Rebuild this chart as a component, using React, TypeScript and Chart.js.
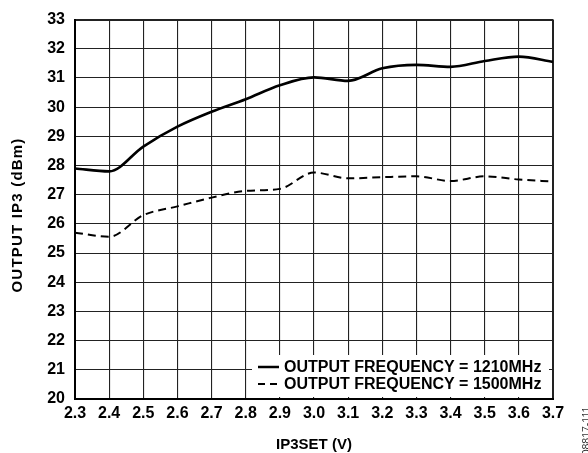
import React, { useEffect, useRef } from "react";
import { Chart, registerables } from "chart.js";

Chart.register(...registerables);

const ip3setVolts = [2.3, 2.4, 2.5, 2.6, 2.7, 2.8, 2.9, 3.0, 3.1, 3.2, 3.3, 3.4, 3.5, 3.6, 3.7];
const ip3At1210MHz = [27.9, 27.8, 28.65, 29.33, 29.84, 30.27, 30.75, 31.02, 30.9, 31.33, 31.45, 31.38, 31.58, 31.73, 31.55];
const ip3At1500MHz = [25.7, 25.56, 26.3, 26.6, 26.9, 27.13, 27.2, 27.76, 27.56, 27.6, 27.63, 27.47, 27.63, 27.52, 27.45];
const seriesLabels = ["OUTPUT FREQUENCY = 1210MHz", "OUTPUT FREQUENCY = 1500MHz"];
const xTitle = "IP3SET (V)";
const yTitle = "OUTPUT IP3 (dBm)";
const figureId = "08817-111";

const FONT = "'Liberation Sans', Arial, Helvetica, sans-serif";

const decorPlugin = {
  id: "decor",
  afterDatasetsDraw(chart: any) {
    const { ctx } = chart;
    ctx.save();
    // legend box
    const bx = 252, by = 355, bw = 297, bh = 42;
    ctx.fillStyle = "#fff";
    ctx.fillRect(bx, by, bw, bh);
    ctx.strokeStyle = "#000";
    ctx.lineWidth = 2.5;
    ctx.setLineDash([]);
    ctx.beginPath();
    ctx.moveTo(258, 367);
    ctx.lineTo(279, 367);
    ctx.stroke();
    ctx.lineWidth = 2;
    ctx.setLineDash([7, 5]);
    ctx.beginPath();
    ctx.moveTo(258, 384);
    ctx.lineTo(279, 384);
    ctx.stroke();
    ctx.setLineDash([]);
    ctx.fillStyle = "#000";
    ctx.font = `bold 16px ${FONT}`;
    ctx.textAlign = "left";
    ctx.textBaseline = "middle";
    ctx.fillText(seriesLabels[0], 284, 368);
    ctx.fillText(seriesLabels[1], 284, 385);
    ctx.restore();
  },
  afterDraw(chart: any) {
    const { ctx, chartArea } = chart;
    ctx.save();
    ctx.fillStyle = "#000";
    ctx.font = `bold 15px ${FONT}`;
    ctx.textAlign = "center";
    ctx.textBaseline = "middle";
    ctx.fillText(xTitle, (chartArea.left + chartArea.right) / 2, 445);
    ctx.save();
    ctx.translate(17.5, 215);
    ctx.rotate(-Math.PI / 2);
    (ctx as any).letterSpacing = "1.2px";
    ctx.fillText(yTitle, 0, 0);
    ctx.restore();
    ctx.save();
    ctx.translate(587, 431);
    ctx.rotate(-Math.PI / 2);
    ctx.fillStyle = "#333";
    ctx.font = `10.5px ${FONT}`;
    ctx.fillText(figureId, 0, 0);
    ctx.restore();
    ctx.restore();
  },
};

export default function App() {
  const ref = useRef<HTMLCanvasElement | null>(null);
  useEffect(() => {
    if (!ref.current) return;
    const lastWide = (c: any, n: number) => (c.index === 0 || c.index === n ? 2 : 1.1);
    const chart = new Chart(ref.current, {
      type: "line",
      data: {
        datasets: [
          {
            label: seriesLabels[0],
            data: ip3setVolts.map((x, i) => ({ x, y: ip3At1210MHz[i] })),
            borderColor: "#000",
            borderWidth: 2.6,
            pointRadius: 0,
            cubicInterpolationMode: "monotone",
            fill: false,
          },
          {
            label: seriesLabels[1],
            data: ip3setVolts.map((x, i) => ({ x, y: ip3At1500MHz[i] })),
            borderColor: "#000",
            borderWidth: 2,
            borderDash: [8, 5],
            pointRadius: 0,
            cubicInterpolationMode: "monotone",
            fill: false,
          },
        ],
      },
      options: {
        animation: false,
        responsive: false,
        maintainAspectRatio: false,
        layout: { padding: { top: 17, right: 35, left: 0, bottom: 0 } },
        plugins: { legend: { display: false }, tooltip: { enabled: false } },
        scales: {
          x: {
            type: "linear",
            min: 2.3,
            max: 3.7,
            afterFit: (s: any) => {
              s.height = 54;
            },
            ticks: {
              stepSize: 0.1,
              autoSkip: false,
              maxRotation: 0,
              padding: 5,
              color: "#000",
              font: { family: FONT, size: 16, weight: "bold" },
              callback: (v: any) => Number(v).toFixed(1),
            },
            grid: { color: "#222", lineWidth: (c: any) => lastWide(c, 14), drawTicks: false },
            border: { display: true, color: "#000", width: 2 },
          },
          y: {
            type: "linear",
            min: 20,
            max: 33,
            afterFit: (s: any) => {
              s.width = 75;
            },
            ticks: {
              stepSize: 1,
              autoSkip: false,
              padding: 10,
              color: "#000",
              font: { family: FONT, size: 16, weight: "bold" },
            },
            grid: { color: "#222", lineWidth: (c: any) => lastWide(c, 13), drawTicks: false },
            border: { display: true, color: "#000", width: 2 },
          },
        },
      },
      plugins: [decorPlugin],
    } as any);
    return () => chart.destroy();
  }, []);
  return (
    <div style={{ position: "absolute", left: 0, top: 0, width: 588, height: 453, background: "#fff" }}>
      <canvas ref={ref} width={588} height={453} style={{ display: "block", width: 588, height: 453 }} />
    </div>
  );
}
